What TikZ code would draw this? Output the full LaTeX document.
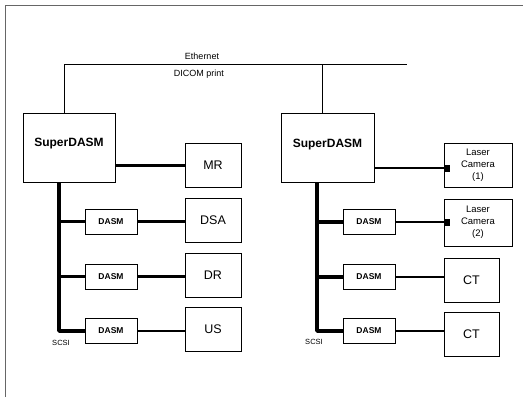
\documentclass[tikz,border=0pt]{standalone}
\usepackage{fontspec}
\setmainfont{Liberation Sans}
\usetikzlibrary{positioning}
\tikzset{
  superbox/.style={draw, line width=.8pt, minimum width=92pt, minimum height=69pt,
    inner sep=0pt, font=\fontsize{12}{14}\selectfont\bfseries, text height=9pt, text depth=11pt},
  devbox/.style={draw, line width=.8pt, minimum width=56pt, minimum height=44pt,
    inner sep=0pt, font=\fontsize{12.5}{14}\selectfont},
  dasmbox/.style={draw, line width=.8pt, minimum width=52pt, minimum height=25pt,
    inner sep=0pt, font=\fontsize{8.5}{9}\selectfont\bfseries},
  laserbox/.style={draw, line width=.8pt, minimum width=68pt, minimum height=44pt,
    inner sep=0pt, align=center, font=\fontsize{9.5}{12}\selectfont},
  lbl/.style={inner sep=0pt, font=\fontsize{9}{10}\selectfont},
  plug/.style={fill=black, inner sep=0pt, minimum width=6pt, minimum height=7pt},
  eth/.style={line width=.7pt},
  bus/.style={line width=3.8pt, line join=round},
  link/.style={line width=2.2pt},
}
\begin{document}
\begin{tikzpicture}[x=1pt,y=-1pt]
    \useasboundingbox (0,0) rectangle (523,397);
    % Rahmen
    \draw[gray!80!black, line width=1pt] (5,397) -- (5,5) -- (523,5);
    % Ethernet
    \coordinate (ethW) at (64,64);
    \coordinate (ethR) at (322,64);
    \coordinate (ethE) at (407,64);
    \draw[eth] (ethW) -- (ethE);
    \node[lbl] (ethtxt) at (202,56) {Ethernet};
    \node[lbl] (dicom) at (199,74) {DICOM print};
    % linke Seite
    \node[superbox] (sdL) at (69,147.5) {SuperDASM};
    \node[devbox] (mr) at (213,165.5) {MR};
    \node[devbox] (dsa) at (213,220) {DSA};
    \node[devbox] (dr) at (213,275) {DR};
    \node[devbox] (us) at (213,329) {US};
    \node[dasmbox] (dL1) at (111,221.5) {DASM};
    \node[dasmbox] (dL2) at (111,276.5) {DASM};
    \node[dasmbox] (dL3) at (111,331) {DASM};
    \coordinate (tL) at (59,0);
    \node[lbl, font=\fontsize{7.5}{8}\selectfont] (scsiL) at (61,343) {SCSI};
    % rechte Seite
    \node[superbox, minimum width=93pt] (sdR) at (327.5,148) {SuperDASM};
    \node[laserbox] (lc1) at (478,165) {Laser\\Camera\\(1)};
    \node[laserbox, minimum height=47pt] (lc2) at (478,222.5) {Laser\\Camera\\(2)};
    \node[devbox, minimum width=55pt] (ct1) at (471.5,280.5) {CT};
    \node[devbox, minimum width=55pt] (ct2) at (471.5,334.5) {CT};
    \node[dasmbox] (dR1) at (369,222) {DASM};
    \node[dasmbox] (dR2) at (369,277) {DASM};
    \node[dasmbox] (dR3) at (369,331) {DASM};
    \coordinate (tR) at (317,0);
    \node[lbl, font=\fontsize{7.5}{8}\selectfont] (scsiR) at (314,342) {SCSI};
    \node[plug, anchor=west] (p1) at (lc1.west |- 0,168) {};
    \node[plug, anchor=west] (p2) at (lc2.west |- dR1) {};
    % Verbindungen
    \draw[eth] (ethW) -- (ethW |- sdL.north);
    \draw[eth] (ethR) -- (ethR |- sdR.north);
    \draw[link] (sdL.east |- mr) -- (mr.west);
    \draw[link] (sdR.east |- p1) -- (p1.west);
    \draw[bus] (sdL.south -| tL) |- (dL3.west);
    \draw[bus] (sdR.south -| tR) |- (dR3.west);
    \foreach \d in {dL1,dL2} \draw[bus] (\d.west -| tL) -- (\d.west);
    \foreach \d in {dR1,dR2} \draw[bus] (\d.west -| tR) -- (\d.west);
    \draw[link] (dL1.east) -- (dL1.east -| dsa.west);
    \draw[link] (dL2.east) -- (dL2.east -| dr.west);
    \draw[link] (dL3.east) -- (dL3.east -| us.west);
    \draw[link] (dR1.east) -- (p2.west);
    \draw[link] (dR2.east) -- (dR2.east -| ct1.west);
    \draw[link] (dR3.east) -- (dR3.east -| ct2.west);
\end{tikzpicture}
\end{document}
